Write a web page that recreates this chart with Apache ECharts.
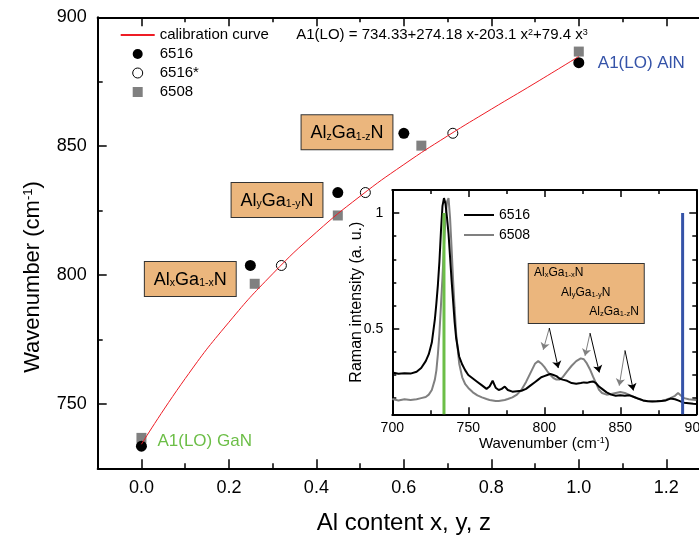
<!DOCTYPE html>
<html><head><meta charset="utf-8">
<script src="https://cdn.jsdelivr.net/npm/echarts@6/dist/echarts.min.js"></script>
<style>html,body{margin:0;padding:0;background:#fff}#c{width:699px;height:537px}</style>
</head><body><div id="c"></div>
<script>
const FONT = 'Liberation Sans, Arial, sans-serif';

// ---- main plot data ----
const curveX = [0, 0.1, 0.2, 0.3, 0.4, 0.5, 0.6, 0.7, 0.8, 0.9, 1.0];
const curveY = [734.33, 759.80, 781.68, 800.45, 816.59, 830.57, 842.87, 853.97, 864.34, 874.46, 884.81];
const s6516 = [[0, 733.6], [0.249, 803.7], [0.449, 832.0], [0.600, 855.0], [1.0, 882.4]];
const s6516star = [[0.320, 803.7], [0.512, 832.0], [0.712, 855.0]];
const s6508 = [[0, 736.8], [0.259, 796.6], [0.449, 823.1], [0.640, 850.2], [1.0, 886.7]];
const xMajorTicks = [0, 0.2, 0.4, 0.6, 0.8, 1.0, 1.2];
const xMinorTicks = [0.1, 0.3, 0.5, 0.7, 0.9, 1.1];
const yMajorTicks = [750, 800, 850, 900];
const yMinorTicks = [775, 825, 875];

// annotation anchors (data coordinates)
const boxAnchors = [[0.1117, 798.5, 'x'], [0.310, 829.1, 'y'], [0.470, 855.35, 'z']];
const ganLabelAt = [0.0366, 735.5];
const alnLabelAt = [1.0435, 882.2];
const equationAt = [0.354, 893.1];

// ---- inset data ----
const wavenumbers = [700,704,708,712,716, 719,722,724,726,728, 729,730,731,732,733, 734,735,736,737,738,
  739,740,741,742,744, 746,748,750,753,756, 759,762,764,766,768, 770,772,774,776,779,
  782,785,788,791,794, 796,798,800,802,804, 806,808,810,812,815, 818,821,824,826,828,
  830,832,834,836,838, 841,844,847,850,853, 856,859,862,865,868, 871,874,877,880,883,
  886,888,890,892,895, 898,900];
const int6516 = [0.311,0.305,0.308,0.306,0.314, 0.33,0.36,0.39,0.44,0.54, 0.61,0.69,0.79,0.92,1.03,
  1.065,1.04,0.98,0.91,0.81, 0.71,0.62,0.53,0.46,0.38, 0.345,0.32,0.30,0.285,0.27,
  0.255,0.24,0.25,0.275,0.245, 0.235,0.24,0.25,0.235,0.228, 0.23,0.232,0.24,0.255,0.27,
  0.28,0.29,0.295,0.30,0.305, 0.30,0.295,0.285,0.28,0.275, 0.265,0.262,0.265,0.268,0.266,
  0.27,0.272,0.265,0.25,0.24, 0.225,0.215,0.21,0.212,0.21, 0.212,0.205,0.197,0.19,0.186,
  0.185,0.186,0.188,0.19,0.198, 0.195,0.19,0.185,0.18,0.178, 0.176,0.175];
const int6508 = [0.196,0.19,0.195,0.192,0.195, 0.2,0.205,0.215,0.235,0.28, 0.32,0.39,0.48,0.60,0.72,
  0.86,0.98,1.05,1.065,0.98, 0.85,0.71,0.59,0.48,0.35, 0.29,0.26,0.244,0.225,0.212,
  0.203,0.196,0.192,0.19,0.188, 0.188,0.19,0.192,0.196,0.203, 0.215,0.236,0.27,0.31,0.35,
  0.36,0.35,0.335,0.316,0.30, 0.287,0.28,0.28,0.29,0.316, 0.34,0.36,0.372,0.368,0.35,
  0.325,0.294,0.265,0.236,0.222, 0.215,0.218,0.222,0.226,0.222, 0.214,0.205,0.198,0.19,0.187,
  0.186,0.186,0.188,0.193,0.2, 0.21,0.222,0.21,0.2,0.195, 0.193,0.192];
const insetXMin = 700, insetXMax = 900;
const insetYMin = 0.13, insetYMax = 1.1;
const insetYMajor = [0.5, 1];
const insetYMinor = [0.2, 0.3, 0.4, 0.6, 0.7, 0.8, 0.9];
const ganPeak = 734, alnPeak = 891, refHeight = 1;
const arrowStarts = [[803.3, 0.503], [830.1, 0.481], [853.1, 0.406]];
const grayArrowEnds = [[799.3, 0.409], [826.8, 0.383], [849.3, 0.254]];
const blackArrowEnds = [[809.2, 0.330], [836.2, 0.311], [858.6, 0.233]];
const insetBoxAt = [827.6, 0.652];
const insetTextAt = [[793.2, 0.741, 'x'], [811.0, 0.654, 'y'], [829.6, 0.572, 'z']];

const BOX_FILL = '#EBB67D';
const GREEN = '#6CBE47';
const BLUE = '#3553A8';

function alLabel(v) { return '{m|Al}{s|' + v + '}{m|Ga}{s|1-' + v + '}{m|N}'; }

const chart = echarts.init(document.getElementById('c'), null, {renderer: 'canvas'});

function mainX(extra) {
  return Object.assign({
    type: 'value', gridIndex: 0, min: -0.1, max: 1.3,
    splitLine: {show: false},
    axisLine: {show: false, onZero: false, lineStyle: {color: '#000', width: 2}},
    axisLabel: {show: false},
    axisTick: {show: true, inside: true}
  }, extra);
}
function mainY(extra) {
  return Object.assign({
    type: 'value', gridIndex: 0, min: 725, max: 900,
    splitLine: {show: false},
    axisLine: {show: false, onZero: false, lineStyle: {color: '#000', width: 2}},
    axisLabel: {show: false},
    axisTick: {show: true, inside: true}
  }, extra);
}
function insetY(extra) {
  return Object.assign({
    type: 'value', gridIndex: 1, min: insetYMin, max: insetYMax,
    splitLine: {show: false},
    axisLine: {show: false, onZero: false, lineStyle: {color: '#000', width: 2}},
    axisLabel: {show: false},
    axisTick: {show: true, inside: true}
  }, extra);
}

const option = {
  animation: false,
  backgroundColor: '#fff',
  textStyle: {fontFamily: FONT},
  grid: [
    {left: 97.7, top: 17.3, width: 612.3, height: 451, containLabel: false, outerBoundsMode: 'none'},
    {left: 392.3, top: 190, width: 304, height: 224.3, containLabel: false, outerBoundsMode: 'none',
      show: true, backgroundColor: '#fff', borderWidth: 0}
  ],
  legend: [
    {
      data: [
        {name: 'calibration curve', itemStyle: {opacity: 0}},
        '6516',
        {name: '6516*', itemStyle: {color: '#fff', borderColor: '#000', borderWidth: 1}},
        {name: '6508', icon: 'path://M0,0L10,0L10,10L0,10Z'}
      ],
      orient: 'vertical', left: 119.7, top: 25.5, padding: 0, itemGap: 0, itemWidth: 34, itemHeight: 10,
      symbolKeepAspect: true,
      textStyle: {fontSize: 15, color: '#000', fontFamily: FONT, lineHeight: 19},
      selectedMode: false
    },
    {
      data: [{name: '6516 ', itemStyle: {opacity: 0}}, {name: '6508 ', itemStyle: {opacity: 0}}],
      orient: 'vertical', left: 463, top: 205, padding: 0, itemGap: 0, itemWidth: 30, itemHeight: 10,
      textStyle: {fontSize: 14, color: '#000', fontFamily: FONT, lineHeight: 20},
      selectedMode: false
    }
  ],
  xAxis: [
    mainX({position: 'bottom',
      axisLine: {show: true, onZero: false, lineStyle: {color: '#000', width: 2}},
      axisTick: {show: true, inside: true, length: 9, customValues: xMajorTicks, lineStyle: {color: '#000', width: 1.5}},
      axisLabel: {show: true, customValues: xMajorTicks, formatter: v => v.toFixed(1), fontSize: 18, color: '#000', margin: 11, fontFamily: FONT},
      name: 'Al content x, y, z', nameLocation: 'middle', nameGap: 43,
      nameTextStyle: {fontSize: 24, color: '#000', fontFamily: FONT}
    }),
    mainX({position: 'bottom',
      axisTick: {show: true, inside: true, length: 5, customValues: xMinorTicks, lineStyle: {color: '#000', width: 1.5}}}),
    mainX({position: 'top',
      axisLine: {show: true, onZero: false, lineStyle: {color: '#000', width: 2}},
      axisTick: {show: true, inside: true, length: 9, customValues: xMajorTicks, lineStyle: {color: '#000', width: 1.5}}}),
    mainX({position: 'top',
      axisTick: {show: true, inside: true, length: 5, customValues: xMinorTicks, lineStyle: {color: '#000', width: 1.5}}}),
    {
      type: 'value', gridIndex: 1, position: 'bottom', min: insetXMin, max: insetXMax, interval: 50,
      splitLine: {show: false},
      axisLine: {show: true, onZero: false, lineStyle: {color: '#000', width: 2}},
      axisTick: {show: true, inside: true, length: 7, lineStyle: {color: '#000', width: 1.5}},
      minorTick: {show: true, splitNumber: 2, length: 4, lineStyle: {color: '#000', width: 1.5}},
      axisLabel: {show: true, fontSize: 14, color: '#000', margin: 7, fontFamily: FONT},
      name: 'Wavenumber (cm{sup|-1})', nameLocation: 'middle', nameGap: 20,
      nameTextStyle: {fontSize: 15, color: '#000', fontFamily: FONT,
        rich: {sup: {fontSize: 9, verticalAlign: 'top', color: '#000', fontFamily: FONT}}}
    },
    {
      type: 'value', gridIndex: 1, position: 'top', min: insetXMin, max: insetXMax, interval: 50,
      splitLine: {show: false},
      axisLine: {show: true, onZero: false, lineStyle: {color: '#000', width: 2}},
      axisTick: {show: true, inside: true, length: 7, lineStyle: {color: '#000', width: 1.5}},
      minorTick: {show: true, splitNumber: 2, length: 4, lineStyle: {color: '#000', width: 1.5}},
      axisLabel: {show: false}
    }
  ],
  yAxis: [
    mainY({position: 'left',
      axisLine: {show: true, onZero: false, lineStyle: {color: '#000', width: 2}},
      axisTick: {show: true, inside: true, length: 9, customValues: yMajorTicks, lineStyle: {color: '#000', width: 1.5}},
      axisLabel: {show: true, customValues: yMajorTicks, fontSize: 18, color: '#000', margin: 11, fontFamily: FONT}
    }),
    mainY({position: 'left',
      axisTick: {show: true, inside: true, length: 5, customValues: yMinorTicks, lineStyle: {color: '#000', width: 1.5}}}),
    insetY({position: 'left',
      axisLine: {show: true, onZero: false, lineStyle: {color: '#000', width: 2}},
      axisTick: {show: true, inside: true, length: 7, customValues: insetYMajor, lineStyle: {color: '#000', width: 1.5}},
      axisLabel: {show: true, customValues: insetYMajor, formatter: v => String(v), fontSize: 14, color: '#000', margin: 9, fontFamily: FONT},
      name: 'Raman intensity (a. u.)', nameLocation: 'middle', nameGap: 28, nameRotate: 90, nameMoveOverlap: false,
      nameTextStyle: {fontSize: 16, color: '#000', fontFamily: FONT}
    }),
    insetY({position: 'left',
      axisTick: {show: true, inside: true, length: 4, customValues: insetYMinor, lineStyle: {color: '#000', width: 1.5}}}),
    insetY({position: 'right',
      axisLine: {show: true, onZero: false, lineStyle: {color: '#000', width: 2}},
      axisTick: {show: true, inside: true, length: 7, customValues: insetYMajor, lineStyle: {color: '#000', width: 1.5}}}),
    insetY({position: 'right',
      axisTick: {show: true, inside: true, length: 4, customValues: insetYMinor, lineStyle: {color: '#000', width: 1.5}}})
  ],
  graphic: [
    {
      type: 'text', x: 33, y: 277, rotation: Math.PI / 2,
      style: {
        text: 'Wavenumber (cm{sup|-1})', fontSize: 22, fontFamily: FONT, fill: '#000',
        align: 'center', verticalAlign: 'middle',
        rich: {sup: {fontSize: 13, verticalAlign: 'top', fontFamily: FONT, fill: '#000'}}
      }
    }
  ],
  series: [
    {
      name: '6508', type: 'scatter', xAxisIndex: 0, yAxisIndex: 0, z: 2,
      symbol: 'rect', symbolSize: 10, itemStyle: {color: '#808080', opacity: 1},
      data: s6508
    },
    {
      name: '6516', type: 'scatter', xAxisIndex: 0, yAxisIndex: 0, z: 3,
      symbol: 'circle', symbolSize: 11, itemStyle: {color: '#000', opacity: 1},
      data: s6516
    },
    {
      name: '6516*', type: 'scatter', xAxisIndex: 0, yAxisIndex: 0, z: 4,
      symbol: 'circle', symbolSize: 10, itemStyle: {color: '#fff', borderColor: '#000', borderWidth: 1, opacity: 1},
      data: s6516star
    },
    {
      name: 'calibration curve', type: 'line', xAxisIndex: 0, yAxisIndex: 0, z: 5,
      symbol: 'none', smooth: true, lineStyle: {color: '#EE1C25', width: 1}, itemStyle: {color: '#EE1C25'},
      data: curveX.map((x, i) => [x, curveY[i]]),
      markPoint: {
        silent: true, symbol: 'rect', symbolSize: 0, animation: false,
        data: boxAnchors.map(b => ({
          coord: [b[0], b[1]],
          label: {
            show: true, position: 'inside', formatter: alLabel(b[2]),
            backgroundColor: BOX_FILL, borderColor: '#333', borderWidth: 1,
            padding: [9, 9, 7, 9], align: 'center', verticalAlign: 'middle',
            rich: {
              m: {fontSize: 18, fontFamily: FONT, color: '#000'},
              s: {fontSize: 10.5, fontFamily: FONT, color: '#000', verticalAlign: 'bottom'}
            }
          }
        })).concat([
          {coord: ganLabelAt, label: {show: true, position: 'right', distance: 0, formatter: 'A1(LO) GaN', color: GREEN, fontSize: 17, fontFamily: FONT}},
          {coord: alnLabelAt, label: {show: true, position: 'right', distance: 0, formatter: 'A1(LO) AlN', color: BLUE, fontSize: 17, fontFamily: FONT}},
          {coord: equationAt, label: {show: true, position: 'right', distance: 0,
            formatter: 'A1(LO) = 734.33+274.18 x-203.1 x{sup|2}+79.4 x{sup|3}', color: '#000', fontSize: 15, fontFamily: FONT,
            rich: {sup: {fontSize: 9, verticalAlign: 'top', color: '#000', fontFamily: FONT}}}}
        ])
      }
    },
    {
      name: '6508 ', type: 'line', xAxisIndex: 4, yAxisIndex: 2, z: 2,
      symbol: 'none', lineStyle: {color: '#808080', width: 2}, itemStyle: {color: '#808080'},
      data: wavenumbers.map((w, i) => [w, int6508[i]]),
      markLine: {
        silent: true, symbol: ['none', 'arrow'], symbolSize: 7, animation: false,
        label: {show: false},
        lineStyle: {type: 'solid', color: '#808080', width: 1},
        data: arrowStarts.map((s, i) => [{coord: s}, {coord: grayArrowEnds[i]}])
      },
      markPoint: {
        silent: true, symbol: 'rect', symbolSize: 0, animation: false,
        data: [{
          coord: insetBoxAt,
          label: {show: true, position: 'inside', formatter: ' ', width: 115, height: 59, padding: 0,
            backgroundColor: BOX_FILL, borderColor: '#333', borderWidth: 1, align: 'center', verticalAlign: 'middle'}
        }].concat(insetTextAt.map(t => ({
          coord: [t[0], t[1]],
          label: {show: true, position: 'right', distance: 0, formatter: alLabel(t[2]),
            rich: {
              m: {fontSize: 12, fontFamily: FONT, color: '#000'},
              s: {fontSize: 7.5, fontFamily: FONT, color: '#000', verticalAlign: 'bottom'}
            }}
        })))
      }
    },
    {
      name: '6516 ', type: 'line', xAxisIndex: 4, yAxisIndex: 2, z: 3,
      symbol: 'none', lineStyle: {color: '#000', width: 2}, itemStyle: {color: '#000'},
      data: wavenumbers.map((w, i) => [w, int6516[i]]),
      markLine: {
        silent: true, symbol: ['none', 'arrow'], symbolSize: 7, animation: false,
        label: {show: false},
        lineStyle: {type: 'solid', color: '#000', width: 1},
        data: arrowStarts.map((s, i) => [{coord: s}, {coord: blackArrowEnds[i]}])
      }
    },
    {
      name: 'GaN ref', type: 'line', xAxisIndex: 4, yAxisIndex: 2, z: 6,
      symbol: 'none', lineStyle: {color: GREEN, width: 3},
      data: [[ganPeak, insetYMin], [ganPeak, refHeight]]
    },
    {
      name: 'AlN ref', type: 'line', xAxisIndex: 4, yAxisIndex: 2, z: 6,
      symbol: 'none', lineStyle: {color: BLUE, width: 3},
      data: [[alnPeak, insetYMin], [alnPeak, refHeight]]
    }
  ]
};
chart.setOption(option);
</script>
</body></html>
